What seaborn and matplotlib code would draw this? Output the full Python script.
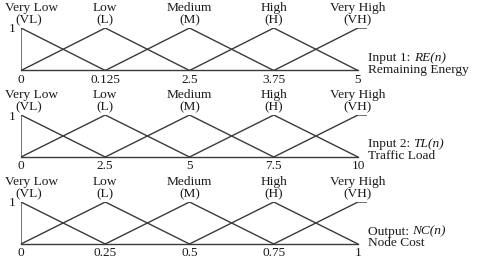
import matplotlib
matplotlib.use("Agg")
import matplotlib.pyplot as plt
import seaborn as sns
import pandas as pd

# ---- data ----
level_names = ["Very Low", "Low", "Medium", "High", "Very High"]
level_abbr = ["(VL)", "(L)", "(M)", "(H)", "(VH)"]

re_ticks = ["0", "0.125", "2.5", "3.75", "5"]
tl_ticks = ["0", "2.5", "5", "7.5", "10"]
nc_ticks = ["0", "0.25", "0.5", "0.75", "1"]

# membership breakpoints (positions on the 5-point scale) and degrees
vl_x = [0, 0, 1]
vl_y = [0, 1, 0]
l_x = [0, 1, 2]
l_y = [0, 1, 0]
m_x = [1, 2, 3]
m_y = [0, 1, 0]
h_x = [2, 3, 4]
h_y = [0, 1, 0]
vh_x = [3, 4, 4.107]
vh_y = [0, 1, 1]

panel_prefix = ["Input 1: ", "Input 2: ", "Output: "]
panel_var = ["RE(n)", "TL(n)", "NC(n)"]
panel_name = ["Remaining Energy", "Traffic Load", "Node Cost"]
panel_ticks = [re_ticks, tl_ticks, nc_ticks]

# ---- style ----
sns.set_style("white")
plt.rcParams["font.family"] = ["Liberation Serif", "DejaVu Serif"]

LINE = "#3a3a3a"
TXT = "#1a1a1a"
FS = 9.6

W, H = 479, 260
fig = plt.figure(figsize=(W / 100, H / 100), dpi=100)

# pixel layout of each panel: (y of value 1, y of baseline)
rows = [(28, 70.5), (115, 157), (202, 244)]
x0_px, x1_px = 21, 367

memberships = [(vl_x, vl_y), (l_x, l_y), (m_x, m_y), (h_x, h_y), (vh_x, vh_y)]

for (top, base), ticks, pre, var, name in zip(rows, panel_ticks, panel_prefix,
                                              panel_var, panel_name):
    ax = fig.add_axes([x0_px / W, 1 - base / H, (x1_px - x0_px) / W, (base - top) / H])
    for mx, my in memberships:
        df = pd.DataFrame({"x": mx, "y": my})
        sns.lineplot(data=df, x="x", y="y", ax=ax, sort=False, estimator=None,
                     color=LINE, linewidth=1.0)
    ax.set_xlim(0, 4.107)
    ax.set_ylim(0, 1)
    ax.set_xlabel("")
    ax.set_ylabel("")
    for s in ["top", "right", "left"]:
        ax.spines[s].set_visible(False)
    ax.spines["bottom"].set_bounds(0, 4)
    ax.spines["bottom"].set_color(LINE)
    ax.spines["bottom"].set_linewidth(1.0)
    ax.set_xticks(range(5))
    ax.set_xticklabels(ticks)
    ax.set_yticks([1])
    ax.set_yticklabels(["1"])
    ax.tick_params(axis="both", length=0, labelsize=FS, colors=TXT)
    ax.tick_params(axis="x", pad=2.5)
    ax.tick_params(axis="y", pad=4)
    ax.patch.set_alpha(0)

    # level labels above the peaks (baseline aligned)
    unit = base - top
    for i, (nm, ab) in enumerate(zip(level_names, level_abbr)):
        dx_name = 0.13 if i == 0 else 0
        dx_abbr = 0.09 if i == 0 else 0
        ax.text(i + dx_name, 1 + 17 / unit, nm, ha="center", va="baseline",
                fontsize=FS, color=TXT, clip_on=False)
        ax.text(i + dx_abbr, 1 + 5 / unit, ab, ha="center", va="baseline",
                fontsize=FS, color=TXT, clip_on=False)

    t1 = fig.text(368 / W, 1 - (base - 9.5) / H, pre, ha="left", va="baseline",
                  fontsize=FS, color=TXT)
    ax.annotate(var, xy=(1, 0), xycoords=t1, ha="left", va="bottom",
                fontsize=FS, color=TXT, style="italic")
    fig.text(368 / W, 1 - (base + 2) / H, name, ha="left", va="baseline",
             fontsize=FS, color=TXT)

fig.savefig("out.png", dpi=100)
